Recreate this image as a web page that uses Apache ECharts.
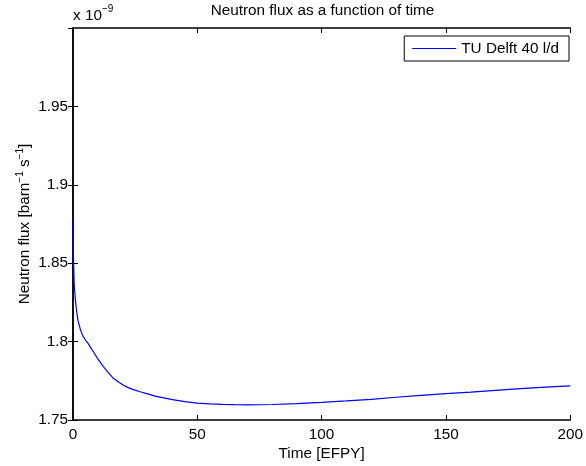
<!DOCTYPE html>
<html><head><meta charset="utf-8">
<script src="https://cdn.jsdelivr.net/npm/echarts@6/dist/echarts.min.js"></script>
<style>html,body{margin:0;padding:0;background:#fff}#c{width:586px;height:466px}</style>
</head><body><div id="c"></div>
<script>
const FONT = '"Liberation Sans", Arial, Helvetica, sans-serif';
const FS = 15.3;
const chartTitle = 'Neutron flux as a function of time';
const seriesName = 'TU Delft 40 l/d';
const xAxisName = 'Time [EFPY]';
const timeEFPY = [0, 0.2, 0.5, 1, 1.5, 2, 3, 4, 5, 6, 7, 8, 10, 12, 14, 16, 18, 20, 22, 24, 27, 30, 33, 36, 40, 45, 50, 55, 60, 65, 70, 80, 90, 100, 110, 120, 130, 140, 150, 160, 170, 180, 190, 200];
const fluxE9 = [1.878, 1.853, 1.836, 1.826, 1.819, 1.8135, 1.8075, 1.8035, 1.801, 1.799, 1.7965, 1.794, 1.789, 1.7845, 1.7805, 1.777, 1.7745, 1.7725, 1.7708, 1.7695, 1.768, 1.7667, 1.7652, 1.7643, 1.763, 1.7617, 1.7608, 1.7603, 1.76, 1.7598, 1.7597, 1.7599, 1.7605, 1.7613, 1.7622, 1.7632, 1.7645, 1.7657, 1.7668, 1.7678, 1.7689, 1.77, 1.771, 1.7717];
const xMin = 0, xMax = 200, xStep = 50;
const yMin = 1.75, yMax = 2.0, yStep = 0.05;

const data = timeEFPY.map((t, i) => [t, fluxE9[i]]);
const chart = echarts.init(document.getElementById('c'), null, {renderer: 'canvas'});

const axisLineStyle = {show: true, lineStyle: {color: '#000', width: 1.5}};
const tickStyle = {show: true, inside: true, length: 5, lineStyle: {color: '#000', width: 1}};
const labelStyle = {color: '#000', fontSize: FS, fontFamily: FONT};

chart.setOption({
  animation: false,
  backgroundColor: '#fff',
  title: {
    text: chartTitle, left: 322.5, top: 3, padding: 0, textAlign: 'center',
    textStyle: {color: '#000', fontSize: FS, fontWeight: 'normal', fontFamily: FONT}
  },
  grid: {left: 73, right: 14.4, top: 28, bottom: 46, containLabel: false},
  legend: {
    data: [{name: seriesName, icon: 'rect'}], right: 17, top: 36, padding: [5, 10, 5, 8],
    itemWidth: 44, itemHeight: 1.2, itemGap: 5,
    borderColor: '#000', borderWidth: 1, borderRadius: 0, backgroundColor: '#fff',
    textStyle: {color: '#000', fontSize: FS, fontFamily: FONT, lineHeight: 14}
  },
  xAxis: [{
    type: 'value', min: xMin, max: xMax, interval: xStep, position: 'bottom',
    name: xAxisName, nameLocation: 'middle', nameGap: 26, nameMoveOverlap: false,
    nameTextStyle: {color: '#000', fontSize: FS, fontFamily: FONT},
    axisLine: axisLineStyle, axisTick: tickStyle,
    axisLabel: Object.assign({margin: 7}, labelStyle),
    splitLine: {show: false}
  }, {
    type: 'value', min: xMin, max: xMax, interval: xStep, position: 'top',
    axisLine: axisLineStyle, axisTick: tickStyle, axisLabel: {show: false}, splitLine: {show: false}
  }],
  yAxis: [{
    type: 'value', min: yMin, max: yMax, interval: yStep, position: 'left',
    name: 'Neutron flux [barn{s|−1} s{s|−1}]', nameLocation: 'middle', nameGap: 38, nameRotate: 90,
    nameMoveOverlap: false,
    nameTextStyle: {color: '#000', fontSize: FS, fontFamily: FONT, lineHeight: 20,
      rich: {s: {fontSize: 10, fontFamily: FONT, color: '#000', verticalAlign: 'top', lineHeight: 20}}},
    axisLine: axisLineStyle, axisTick: tickStyle,
    axisLabel: Object.assign({margin: 5, showMaxLabel: false}, labelStyle),
    splitLine: {show: false}
  }, {
    type: 'value', min: yMin, max: yMax, interval: yStep, position: 'right',
    axisLine: axisLineStyle, axisTick: tickStyle, axisLabel: {show: false}, splitLine: {show: false}
  }],
  graphic: [
    {type: 'text', left: 73, top: 8, style: {text: 'x 10', fill: '#000', font: FS + 'px ' + FONT}},
    {type: 'text', left: 102, top: 4, style: {text: '−9', fill: '#000', font: '10px ' + FONT}}
  ],
  series: [{
    name: seriesName, type: 'line', xAxisIndex: 0, yAxisIndex: 0,
    data: data, symbol: 'none', showSymbol: false, smooth: false,
    lineStyle: {color: '#0000ff', width: 1.2}, itemStyle: {color: '#0000ff'}
  }]
});
</script>
</body></html>
